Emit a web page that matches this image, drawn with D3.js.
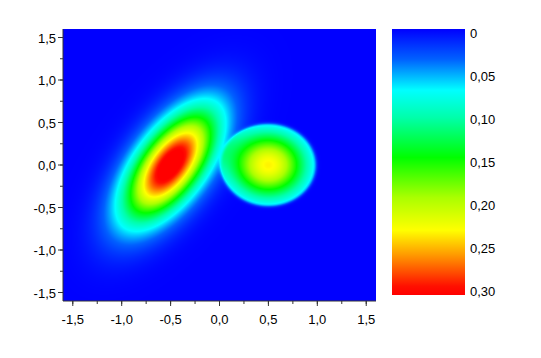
<!DOCTYPE html>
<html>
<head>
<meta charset="utf-8">
<script src="https://cdn.jsdelivr.net/npm/d3@7"></script>
<style>
    body { margin: 0; background: #fff; }
    svg { display: block; font-family: "Liberation Sans", Arial, sans-serif; }
</style>
</head>
<body>
<div id="chart"></div>
<script>
// Peaks (data units)
const peakX = [-0.5, 0.5];
const peakY = [0.0, 0.0];
const peakHeight = [0.325, 0.23];
const sigmaMajor = [0.5, 0.30];
const sigmaMinor = [0.225, 0.30];
const peakAngle = [59, 0];        // degrees
const peakCut = [null, 0.49];     // right peak is cut off at this radius

// Axis ticks
const xTicks = [-1.5, -1.0, -0.5, 0.0, 0.5, 1.0, 1.5];
const yTicks = [-1.5, -1.0, -0.5, 0.0, 0.5, 1.0, 1.5];
const colorTicks = [0, 0.05, 0.10, 0.15, 0.20, 0.25, 0.30];
const colorTickLabels = ["0", "0,05", "0,10", "0,15", "0,20", "0,25", "0,30"];

// Colour map
const colorStops = [0, 0.034, 0.069, 0.10, 0.145, 0.19, 0.227, 0.255, 0.29, 0.30];
const colorValues = ["#0000ff", "#0060ff", "#00ffff", "#00ffaa", "#00ff00", "#aaff00", "#ffff00", "#ff9900", "#ff1000", "#ff0000"];

const width = 541, height = 358;
const plot = { left: 63, right: 376, top: 29, bottom: 301 };
const bar = { left: 392, right: 465, top: 29, bottom: 295 };

const svg = d3.select("#chart")
    .append("svg")
        .attr("width", width)
        .attr("height", height);

const x = d3.scaleLinear().domain([-1.6, 1.6]).range([plot.left, plot.right]);
const y = d3.scaleLinear().domain([-1.6, 1.6]).range([plot.bottom, plot.top]);
const color = d3.scaleLinear().domain(colorStops).range(colorValues).clamp(true);

const surface = (px, py) => {
    let v = 0;
    peakX.forEach((cx, i) => {
        const dx = px - cx, dy = py - peakY[i];
        const a = peakAngle[i] * Math.PI / 180;
        const u = dx * Math.cos(a) + dy * Math.sin(a);
        const w = -dx * Math.sin(a) + dy * Math.cos(a);
        let f = peakHeight[i] * Math.exp(-(u * u) / (2 * sigmaMajor[i] ** 2) - (w * w) / (2 * sigmaMinor[i] ** 2));
        // soft edge of the cut-off peak
        if (peakCut[i] !== null) f /= 1 + Math.exp((Math.hypot(dx, dy) - peakCut[i]) / 0.01);
        v += f;
    });
    return v;
};

// Paint the map into a canvas, one cell per pixel
const pw = plot.right - plot.left, ph = plot.bottom - plot.top;
const canvas = document.createElement("canvas");
canvas.width = pw;
canvas.height = ph;
const ctx = canvas.getContext("2d");
const img = ctx.createImageData(pw, ph);
for (let j = 0; j < ph; j++) {
    for (let i = 0; i < pw; i++) {
        const c = d3.rgb(color(surface(x.invert(plot.left + i + 0.5), y.invert(plot.top + j + 0.5))));
        const k = (j * pw + i) * 4;
        img.data[k] = c.r; img.data[k + 1] = c.g; img.data[k + 2] = c.b; img.data[k + 3] = 255;
    }
}
ctx.putImageData(img, 0, 0);

svg.append("image")
    .attr("x", plot.left)
    .attr("y", plot.top)
    .attr("width", pw)
    .attr("height", ph)
    .attr("href", canvas.toDataURL());

// Axes
const minorTicks = d3.range(-1.5, 1.51, 0.25);
const fmt = d => d3.format(".1f")(d).replace(".", ",").replace("−", "-");

const xAxis = svg.append("g").attr("transform", `translate(0,${plot.bottom})`);
xAxis.append("line").attr("x1", plot.left).attr("x2", plot.right).attr("stroke", "#333");
xAxis.selectAll(".minor").data(minorTicks).join("line")
    .attr("x1", d => x(d)).attr("x2", d => x(d)).attr("y1", 0).attr("y2", 3).attr("stroke", "#333");
xAxis.selectAll(".major").data(xTicks).join("line")
    .attr("x1", d => x(d)).attr("x2", d => x(d)).attr("y1", 0).attr("y2", 5).attr("stroke", "#333");
xAxis.selectAll("text").data(xTicks).join("text")
    .attr("x", d => x(d)).attr("y", 23)
    .attr("text-anchor", "middle")
    .style("font-size", "13px")
    .text(fmt);

const yAxis = svg.append("g").attr("transform", `translate(${plot.left},0)`);
yAxis.append("line").attr("y1", plot.top).attr("y2", plot.bottom).attr("stroke", "#333");
yAxis.selectAll(".minor").data(minorTicks).join("line")
    .attr("y1", d => y(d)).attr("y2", d => y(d)).attr("x1", 0).attr("x2", -3).attr("stroke", "#333");
yAxis.selectAll(".major").data(yTicks).join("line")
    .attr("y1", d => y(d)).attr("y2", d => y(d)).attr("x1", 0).attr("x2", -5).attr("stroke", "#333");
yAxis.selectAll("text").data(yTicks).join("text")
    .attr("x", -7).attr("y", d => y(d) + 5)
    .attr("text-anchor", "end")
    .style("font-size", "13px")
    .text(fmt);

// Colour bar
const grad = svg.append("defs").append("linearGradient")
    .attr("id", "cbar").attr("x1", 0).attr("x2", 0).attr("y1", 0).attr("y2", 1);
grad.selectAll("stop").data(colorStops).join("stop")
    .attr("offset", d => d / 0.30)
    .attr("stop-color", d => color(d));
svg.append("rect")
    .attr("x", bar.left).attr("y", bar.top)
    .attr("width", bar.right - bar.left).attr("height", bar.bottom - bar.top)
    .attr("fill", "url(#cbar)");

const cl = d3.scaleLinear().domain([0, 0.30]).range([33, 291]);
svg.selectAll(".cbl").data(colorTicks).join("text")
    .attr("x", 470).attr("y", d => cl(d) + 5)
    .style("font-size", "13px")
    .text((d, i) => colorTickLabels[i]);
</script>
</body>
</html>
